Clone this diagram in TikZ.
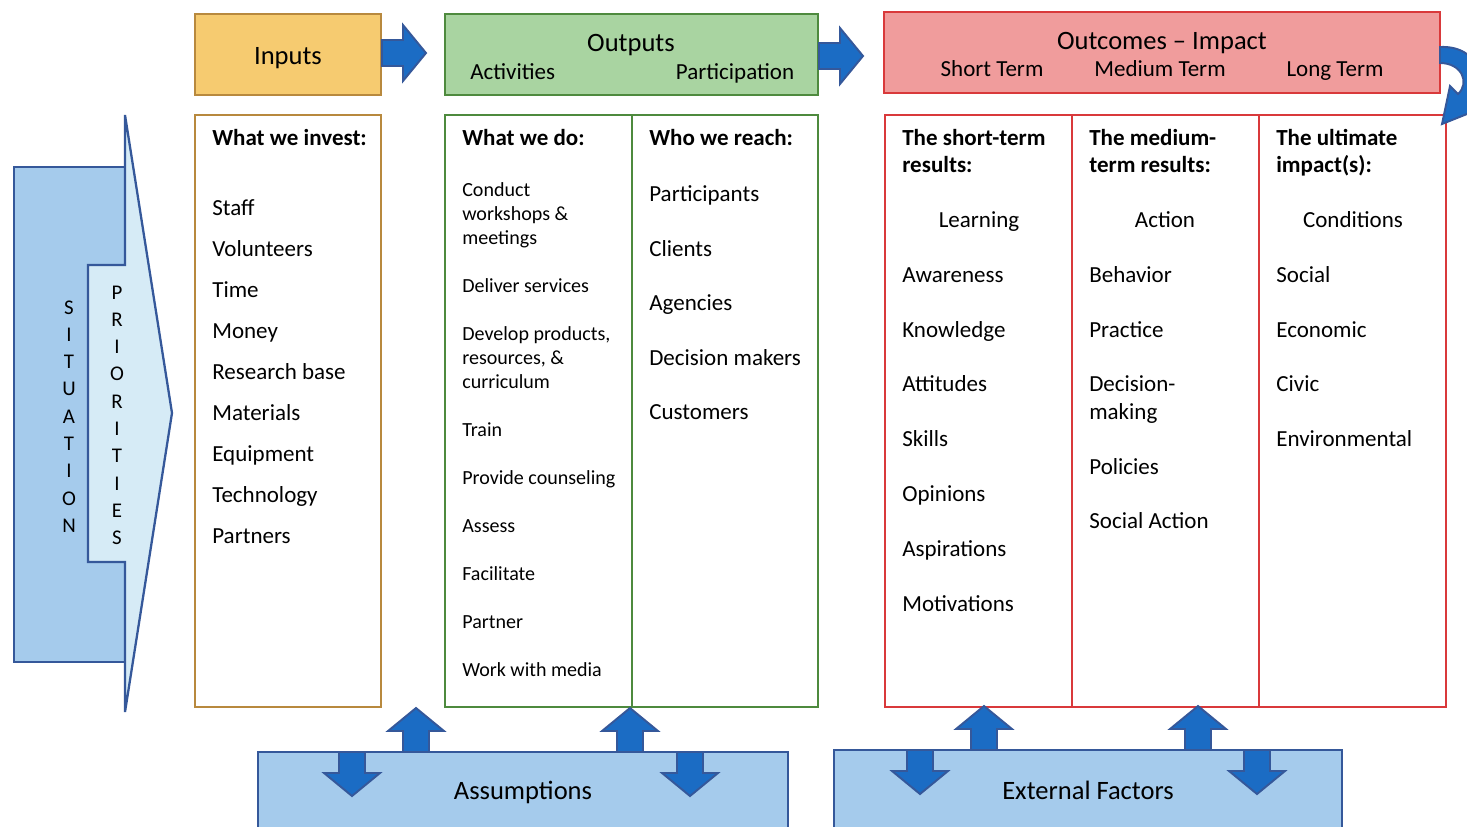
\documentclass[tikz,border=0pt]{standalone}
\usepackage{fontspec}
\setmainfont{Carlito}

\definecolor{inyellow}{HTML}{F6CB70}
\definecolor{inbrown}{HTML}{B8893E}
\definecolor{outgreen}{HTML}{A9D4A1}
\definecolor{outline}{HTML}{4E8A3E}
\definecolor{ocred}{HTML}{F09C9C}
\definecolor{ocline}{HTML}{D9393B}
\definecolor{sitblue}{HTML}{A5CBEC}
\definecolor{priblue}{HTML}{D6EBF6}
\definecolor{frameblue}{HTML}{35589A}
\definecolor{arrowblue}{HTML}{1B6CC4}

\tikzset{
  bighead/.style={font=\fontsize{15.1}{18}\selectfont},
  bodytxt/.style={font=\fontsize{13.1}{15.7}\selectfont},
  smalltxt/.style={font=\fontsize{11.4}{13.7}\selectfont},
  colhead/.style={font=\bfseries\fontsize{13.1}{15.7}\selectfont, anchor=base west},
  sideletter/.style={font=\fontsize{11.9}{14}\selectfont, anchor=base},
  blockarrow/.pic={
    \draw[fill=arrowblue, draw=frameblue, line width=1.1pt]
      (-13,0) -- (-13,-21) -- (-28,-21) -- (0,-44) -- (28,-21) -- (13,-21) -- (13,0) -- cycle;
  }
}

\begin{document}
\begin{tikzpicture}[x=0.02cm, y=-0.02cm, line width=1.5pt,
    every node/.style={inner sep=0pt}]
  \useasboundingbox (0,0) rectangle (1467,826);

  % situation / priorities
  \draw[frameblue, line width=1.3pt, fill=sitblue] (14,167) rectangle (125,662);
  \draw[frameblue, line width=1.3pt, fill=priblue] (125,115) -- (172,413) -- (125,712)
    -- (125,562) -- (88,562) -- (88,265) -- (125,265) -- cycle;
  \foreach \c [count=\i from 0] in {S,I,T,U,A,T,I,O,N}
    \node[sideletter] (sit\i) at (69, 314+27.3*\i) {\c};
  \foreach \c [count=\i from 0] in {P,R,I,O,R,I,T,I,E,S}
    \node[sideletter] (pri\i) at (117, 299+27.3*\i) {\c};

  % header boxes
  \draw[inbrown, fill=inyellow] (195,14) rectangle (381,95);
  \node[bighead, anchor=base] (inputs) at (288,64) {Inputs};
  \draw[outline, fill=outgreen] (445,14) rectangle (818,95);
  \node[bighead, anchor=base] (outputs) at (631,51) {Outputs};
  \node[bodytxt, anchor=base west] (activities) at (469,79) {Activities};
  \node[bodytxt, anchor=base] (participation) at (735,79) {Participation};
  \draw[ocline, fill=ocred] (884,12) rectangle (1440,93);
  \node[bighead, anchor=base] (outcomes) at (1162,49) {Outcomes – Impact};
  \node[bodytxt, anchor=base] (shortterm) at (992,76) {Short Term};
  \node[bodytxt, anchor=base] (mediumterm) at (1160,76) {Medium Term};
  \node[bodytxt, anchor=base] (longterm) at (1335,76) {Long Term};

  % columns
  \draw[inbrown] (195,115) rectangle (381,707);
  \draw[outline] (445,115) rectangle (818,707) (632,115) -- (632,707);
  \draw[ocline] (885,115) rectangle (1446,707)
    (1072,115) -- (1072,707) (1259,115) -- (1259,707);

  % inputs
  \node[colhead] (invest) at (211,145) {What we invest:};
  \foreach \t [count=\i from 0] in {Staff,Volunteers,Time,Money,Research base,
      Materials,Equipment,Technology,Partners}
    \node[bodytxt, anchor=base west] (inv\i) at (211, 215+41*\i) {\t};

  % outputs
  \node[colhead] (wedo) at (461,145) {What we do:};
  \foreach \k/\t [count=\i] in {0/Conduct,1/workshops \&,2/meetings,4/Deliver services,
      6/{Develop products,},7/{resources, \&},8/curriculum,10/Train,12/Provide counseling,
      14/Assess,16/Facilitate,18/Partner,20/Work with media}
    \node[smalltxt, anchor=base west] (do\i) at (461, 196.5+24*\k) {\t};
  \node[colhead] (wereach) at (648,145) {Who we reach:};
  \foreach \t [count=\i from 0] in {Participants,Clients,Agencies,Decision makers,Customers}
    \node[bodytxt, anchor=base west] (reach\i) at (648, 201.5+54.5*\i) {\t};

  % outcomes
  \node[colhead] (st1) at (901,145) {The short-term};
  \node[colhead] (st2) at (901,172) {results:};
  \node[bodytxt, anchor=base] (learning) at (979,227.5) {Learning};
  \foreach \t [count=\i] in {Awareness,Knowledge,Attitudes,Skills,Opinions,
      Aspirations,Motivations}
    \node[bodytxt, anchor=base west] (short\i) at (901, 227.5+54.8*\i) {\t};

  \node[colhead] (mt1) at (1088,145) {The medium-};
  \node[colhead] (mt2) at (1088,172) {term results:};
  \node[bodytxt, anchor=base] (action) at (1165,227.5) {Action};
  \foreach \k/\t [count=\i] in {1/Behavior,2/Practice,3/Decision-,3.5/making,
      4.5/Policies,5.5/Social Action}
    \node[bodytxt, anchor=base west] (medium\i) at (1088, 227.5+54.8*\k) {\t};

  \node[colhead] (lt1) at (1275,145) {The ultimate};
  \node[colhead] (lt2) at (1275,172) {impact(s):};
  \node[bodytxt, anchor=base] (conditions) at (1353,227.5) {Conditions};
  \foreach \t [count=\i] in {Social,Economic,Civic,Environmental}
    \node[bodytxt, anchor=base west] (long\i) at (1275, 227.5+54.8*\i) {\t};

  % assumptions / external factors
  \draw[frameblue, line width=1.2pt, fill=sitblue] (258,752) rectangle (788,850);
  \node[bighead, anchor=base] (assumptions) at (523,799) {Assumptions};
  \draw[frameblue, line width=1.2pt, fill=sitblue] (834,750) rectangle (1342,850);
  \node[bighead, anchor=base] (external) at (1088,799) {External Factors};

  % block arrows
  \pic[rotate=-90] at (382,53) {blockarrow};
  \pic[rotate=-90] at (819,56) {blockarrow};
  \foreach \x in {416,630} \pic at (\x,752) {blockarrow};
  \foreach \x in {352,690} \pic[rotate=180] at (\x,752) {blockarrow};
  \foreach \x in {984,1198} \pic at (\x,750) {blockarrow};
  \foreach \x in {920,1257} \pic[rotate=180] at (\x,750) {blockarrow};

  % feedback arrow
  \draw[fill=arrowblue, draw=frameblue, line width=1.1pt]
    (1440,47) .. controls (1480,45) and (1492,86) .. (1468,102)
    -- (1477,110) -- (1442,124) -- (1450,86) -- (1458,94)
    .. controls (1470,83) and (1462,63) .. (1440,63) -- cycle;
\end{tikzpicture}
\end{document}
